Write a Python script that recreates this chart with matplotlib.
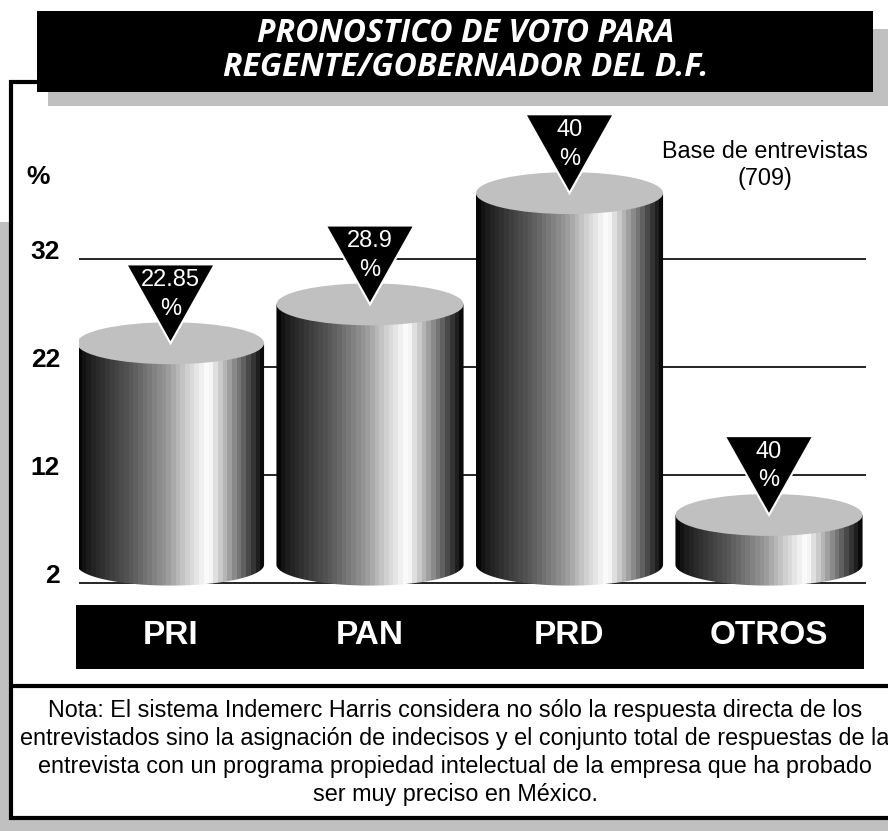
import matplotlib

matplotlib.use("Agg")
import matplotlib.pyplot as plt  # noqa: E402
import numpy as np  # noqa: E402
from matplotlib.patches import Ellipse, PathPatch, Polygon, Rectangle  # noqa: E402
from matplotlib.path import Path  # noqa: E402

# --- data ---------------------------------------------------------------------
partidos = ["PRI", "PAN", "PRD", "OTROS"]
altura = [24.2, 27.8, 38.1, 8.3]           # cylinder top, read against the % axis
etiquetas = ["22.85", "28.9", "40", "40"]  # as printed in the black triangles
ticks = [2, 12, 22, 32]
base = 3.7                                  # where the cylinders stand

titulo = ["PRONOSTICO DE VOTO PARA", "REGENTE/GOBERNADOR DEL D.F."]
nota = [
    "Nota: El sistema Indemerc Harris considera no sólo la respuesta directa de los",
    "entrevistados sino la asignación de indecisos y el conjunto total de respuestas de la",
    "entrevista con un programa propiedad intelectual de la empresa que ha probado",
    "ser muy preciso en México.",
]

GRIS = "#c0c0c0"
FONT = "Liberation Sans"
W, H = 888, 831

fig = plt.figure(figsize=(W / 100, H / 100), dpi=100)

# background axes in pixel units (y down) for the frame, title and note
bg = fig.add_axes([0, 0, 1, 1])
bg.set_xlim(0, W)
bg.set_ylim(H, 0)
bg.axis("off")

bg.add_patch(Rectangle((0, 222), 9, H, fc=GRIS, ec="none"))
bg.add_patch(Rectangle((0, 819), W, 20, fc=GRIS, ec="none"))
bg.add_patch(Rectangle((10.5, 81.5), 900, 736, fc="white", ec="black", lw=3))
bg.plot([10, W], [685.5, 685.5], color="black", lw=3, solid_capstyle="butt")

# title box with its grey drop shadow
bg.add_patch(Rectangle((48, 29), 850, 77, fc=GRIS, ec="none"))
bg.add_patch(Rectangle((37, 11), 836, 81, fc="black", ec="none"))
for k, linea in enumerate(titulo):
    bg.text(466, 33 + 35 * k, linea, color="white", fontsize=23, fontweight="bold",
            fontstyle="italic", family="Open Sans", ha="center", va="center")

bg.text(38, 177, "%", fontsize=19, fontweight="bold", family=FONT, ha="center", va="center")
bg.text(765, 152, "Base de entrevistas", fontsize=16.8, family=FONT, ha="center", va="center")
bg.text(765, 178, "(709)", fontsize=16.8, family=FONT, ha="center", va="center")

for k, linea in enumerate(nota):
    bg.text(455, 711 + 28 * k, linea, fontsize=16.8, family=FONT, ha="center", va="center")

# --- chart axes ------------------------------------------------------------------
px_unit = 10.8     # pixels per 1 %
x0_px, x1_px = 79, 866
zero_px = 604.6
ax = fig.add_axes([x0_px / W, (H - zero_px) / H, (x1_px - x0_px) / W, (zero_px - 100) / H])
ax.patch.set_alpha(0)
ax.axis("off")
xlim = ((x0_px - 170.5) / 199.5, (x1_px - 170.5) / 199.5)
ylim = (0, (zero_px - 100) / px_unit)

ax.hlines(ticks, xlim[0], xlim[1], color="black", lw=1.2, zorder=1)
for t in ticks:
    ax.text(-0.024, t, str(t), transform=ax.get_yaxis_transform(), ha="right",
            va="baseline", fontsize=19, fontweight="bold", family=FONT, clip_on=False)

rx, ry = 0.469, 1.94
# banded light: dark left, white highlight at ~70 %, dark right edge
tt = (np.arange(40) + 0.5) / 40
shade = np.interp(tt, [0, 0.05, 0.3, 0.48, 0.58, 0.7, 0.85, 1.0],
                  [0.0, 0.1, 0.36, 0.6, 0.8, 1.0, 0.5, 0.0])

for i, (p, v, lab) in enumerate(zip(partidos, altura, etiquetas)):
    th = np.linspace(np.pi, 2 * np.pi, 80)
    arco = np.column_stack([i + rx * np.cos(th), base + ry * np.sin(th)])
    verts = [(i - rx, v)] + arco.tolist() + [(i + rx, v), (i - rx, v)]
    codes = [Path.MOVETO] + [Path.LINETO] * (len(verts) - 2) + [Path.CLOSEPOLY]
    cuerpo = PathPatch(Path(verts, codes), fc="none", ec="none")
    ax.add_patch(cuerpo)
    im = ax.imshow(shade[None, :], extent=(i - rx, i + rx, base - ry, v), cmap="gray",
                   vmin=0, vmax=1, aspect="auto", interpolation="nearest", zorder=2)
    im.set_clip_path(cuerpo)
    ax.add_patch(Ellipse((i, v), 2 * rx, 2 * ry, fc=GRIS, ec="none", zorder=3))

    # black inverted triangle pointing at the top of the cylinder
    ax.add_patch(Polygon([(i, v), (i - 0.222, v + 7.3), (i + 0.222, v + 7.3)],
                         closed=True, fc="black", ec="white", lw=1.5, zorder=4,
                         clip_on=False))
    ax.text(i, v + 5.85, lab, color="white", fontsize=17, family=FONT,
            ha="center", va="center", zorder=5)
    ax.text(i, v + 3.2, "%", color="white", fontsize=17, family=FONT,
            ha="center", va="center", zorder=5)

# black band with the party names
ax.add_patch(Rectangle((-0.474, -6.0), 3.948, 6.0, fc="black", ec="none",
                       clip_on=False, zorder=2))
for i, p in enumerate(partidos):
    ax.text(i, -2.85, p, color="white", fontsize=24, fontweight="bold", family=FONT,
            ha="center", va="center", clip_on=False, zorder=3)

ax.set_xlim(*xlim)
ax.set_ylim(*ylim)

fig.savefig("out.png", dpi=100)
